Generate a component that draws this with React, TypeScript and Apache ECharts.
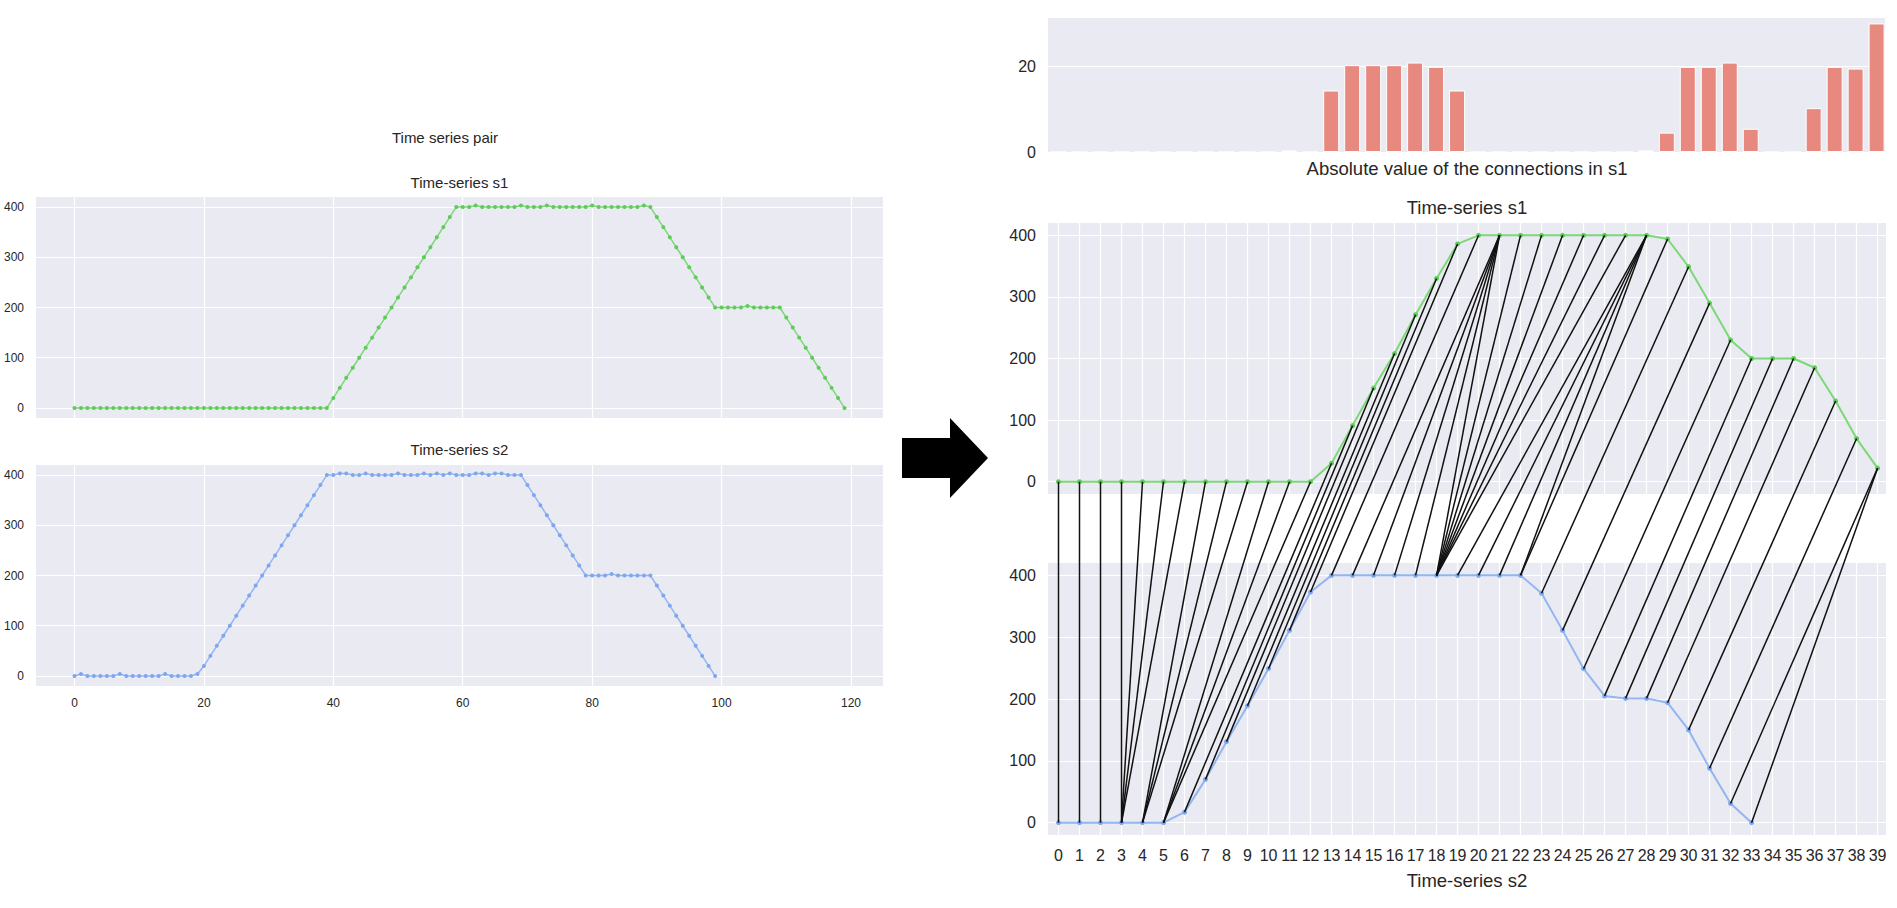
import React, { useEffect, useRef } from 'react';
import * as echarts from 'echarts';

// ---------- Left panel: original series ----------
const leftS1: number[] = [
  0, 0, 0, 0, 0, 0, 0, 0, 0, 0, 0, 0, 0, 0, 0, 0, 0, 0, 0, 0,
  0, 0, 0, 0, 0, 0, 0, 0, 0, 0, 0, 0, 0, 0, 0, 0, 0, 0, 0, 0,
  20, 40, 60, 80, 100, 120, 140, 160, 180, 200, 220, 240, 260, 280, 300, 320, 340, 360, 380, 400,
  400, 400, 403, 400, 400, 400, 400, 400, 400, 403, 400, 400, 400, 403, 400, 400, 400, 400, 400, 400,
  403, 400, 400, 400, 400, 400, 400, 400, 403, 400,
  380, 360, 340, 320, 300, 280, 260, 240, 220, 200,
  200, 200, 200, 200, 203, 200, 200, 200, 200, 200,
  180, 160, 140, 120, 100, 80, 60, 40, 20, 0,
];

const leftS2: number[] = [
  0, 4, 0, 0, 0, 0, 0, 4, 0, 0, 0, 0, 0, 0, 4, 0, 0, 0, 0, 4,
  20, 40, 60, 80, 100, 120, 140, 160, 180, 200, 220, 240, 260, 280, 300, 320, 340, 360, 380, 400,
  400, 403, 403, 400, 400, 403, 400, 400, 400, 400, 403, 400, 400, 400, 403, 400, 403, 400, 403, 400,
  400, 400, 403, 403, 400, 403, 403, 400, 400, 400,
  380, 360, 340, 320, 300, 280, 260, 240, 220, 200,
  200, 200, 200, 203, 200, 200, 200, 200, 200, 200,
  180, 160, 140, 120, 100, 80, 60, 40, 20, 0,
];

const leftXTicks = [0, 20, 40, 60, 80, 100, 120];

// ---------- Right panel: reduced series ----------
const rightS1: number[] = [
  0, 0, 0, 0, 0, 0, 0, 0, 0, 0, 0, 0, 0,
  30, 91, 152, 208, 271, 330, 386,
  400, 400, 400, 400, 400, 400, 400, 400, 400,
  394, 349, 290, 230, 200, 200, 200, 185, 131, 70, 22,
];

const rightS2: number[] = [
  0, 0, 0, 0, 0, 0,
  17, 70, 131, 189, 249, 311, 373,
  400, 400, 400, 400, 400, 400, 400, 400, 400, 400,
  371, 311, 249, 205, 201, 201, 194, 150, 88, 31, 0,
];

// Absolute value of the connections in s1 (one bar per s1 index)
const connectionBars: number[] = [
  0, 0, 0, 0, 0, 0, 0, 0, 0, 0, 0, 0.4, 0,
  14.3, 20.2, 20.2, 20.2, 20.8, 19.8, 14.3,
  0, 0, 0, 0, 0, 0, 0, 0, 0.4,
  4.5, 19.8, 19.8, 20.8, 5.4, 0, 0, 10.2, 19.8, 19.4, 29.9,
];

// Warping path: pairs (index in s1, index in s2)
const pathS1: number[] = [
  0, 1, 2, 3, 4, 5, 6, 7, 8, 9, 10, 11, 12, 13,
  14, 15, 16, 17, 18, 19, 20,
  21, 21, 21, 21, 21, 22, 23, 24, 25, 26, 27, 28, 28, 28, 28, 29,
  30, 31, 32, 33, 34, 35, 36, 37, 38, 39, 39,
];
const pathS2: number[] = [
  0, 1, 2, 3, 3, 3, 3, 4, 4, 4, 5, 5, 5, 6,
  7, 8, 9, 10, 11, 12, 13,
  14, 15, 16, 17, 18, 18, 18, 18, 18, 18, 18, 19, 20, 21, 22, 22,
  23, 24, 25, 26, 27, 28, 29, 30, 31, 32, 33,
];

const GREEN_LINE = '#7dd877';
const GREEN_MARK = '#5fcb58';
const BLUE_LINE = '#92b6f2';
const BLUE_MARK = '#7ea7ee';
const BAR_COLOR = '#e8897f';
const BG = '#eaeaf2';
const TXT = '#262626';
const FONT = '"Liberation Sans", Arial, Helvetica, sans-serif';

function text(x: number, y: number, s: string, size: number) {
  return {
    type: 'text',
    x,
    y,
    silent: true,
    style: {
      text: s,
      font: `${size}px ${FONT}`,
      fill: TXT,
      align: 'center',
      verticalAlign: 'middle',
      textAlign: 'center',
      textVerticalAlign: 'middle',
    },
  };
}

export default function App() {
  const ref = useRef<HTMLDivElement>(null);

  useEffect(() => {
    if (!ref.current) return;
    const chart = echarts.init(ref.current, null, { renderer: 'svg' });

    const split = { show: true, lineStyle: { color: '#ffffff', width: 1.2 }, showMinLine: false, showMaxLine: false };
    const leftLabel = { fontSize: 12, color: TXT, fontFamily: FONT, showMinLabel: false, showMaxLabel: false };
    const rightLabel = { fontSize: 16, color: TXT, fontFamily: FONT, showMinLabel: false, showMaxLabel: false };
    const noLine = { show: false };

    const leftX = (gridIndex: number, labels: boolean) => ({
      type: 'value', gridIndex, min: -5.95, max: 124.95, minInterval: 20, maxInterval: 20,
      axisLine: noLine, axisTick: noLine, splitLine: split,
      axisLabel: { ...leftLabel, show: labels, margin: 11, formatter: (v: number) => (leftXTicks.includes(v) ? String(v) : '') },
    });
    const leftY = (gridIndex: number) => ({
      type: 'value', gridIndex, min: -20, max: 420, minInterval: 100, maxInterval: 100,
      axisLine: noLine, axisTick: noLine, splitLine: split,
      axisLabel: { ...leftLabel, margin: 12 },
    });
    const rightX = (gridIndex: number, labels: boolean, grid: boolean) => ({
      type: 'value', gridIndex, min: -0.5, max: 39.4, minInterval: 1, maxInterval: 1,
      axisLine: noLine, axisTick: noLine, splitLine: grid ? split : { show: false },
      axisLabel: { ...rightLabel, show: labels, margin: 12 },
    });
    const rightY = (gridIndex: number) => ({
      type: 'value', gridIndex, min: -20, max: 420, minInterval: 100, maxInterval: 100,
      axisLine: noLine, axisTick: noLine, splitLine: split,
      axisLabel: { ...rightLabel, margin: 12 },
    });

    const gridBase = { show: true, backgroundColor: BG, borderWidth: 0, containLabel: false };

    const baseGraphics: any[] = [
      text(445, 137, 'Time series pair', 15),
      text(459.5, 182, 'Time-series s1', 15),
      text(459.5, 449, 'Time-series s2', 15),
      text(1467, 168, 'Absolute value of the connections in s1', 18.5),
      text(1467, 207, 'Time-series s1', 18.5),
      text(1467, 880, 'Time-series s2', 18.5),
      {
        type: 'polygon',
        silent: true,
        shape: { points: [[902, 438], [950, 438], [950, 418], [988, 458], [950, 498], [950, 478], [902, 478]] },
        style: { fill: '#000000' },
      },
    ];

    const option: any = {
      animation: false,
      backgroundColor: '#ffffff',
      grid: [
        { ...gridBase, left: 36, top: 197, width: 847, height: 221 },
        { ...gridBase, left: 36, top: 465, width: 847, height: 221 },
        { ...gridBase, left: 1048, top: 17, width: 837, height: 135 },
        { ...gridBase, left: 1048, top: 223, width: 838, height: 271 },
        { ...gridBase, left: 1048, top: 563, width: 838, height: 272 },
      ],
      xAxis: [
        leftX(0, false),
        leftX(1, true),
        { ...rightX(2, false, false) },
        rightX(3, false, true),
        rightX(4, true, true),
      ],
      yAxis: [
        leftY(0),
        leftY(1),
        {
          type: 'value', gridIndex: 2, min: 0, max: 31.4, interval: 20,
          axisLine: noLine, axisTick: noLine, splitLine: { show: true, lineStyle: { color: '#ffffff', width: 1.2 } },
          axisLabel: { ...rightLabel, showMinLabel: true, showMaxLabel: false, margin: 12 },
        },
        rightY(3),
        rightY(4),
      ],
      series: [
        {
          type: 'line', xAxisIndex: 0, yAxisIndex: 0,
          data: leftS1.map((v, i) => [i, v]),
          showSymbol: true, symbol: 'circle', symbolSize: 4,
          lineStyle: { color: GREEN_LINE, width: 1.5 }, itemStyle: { color: GREEN_MARK, borderWidth: 0 },
        },
        {
          type: 'line', xAxisIndex: 1, yAxisIndex: 1,
          data: leftS2.map((v, i) => [i, v]),
          showSymbol: true, symbol: 'circle', symbolSize: 4,
          lineStyle: { color: BLUE_LINE, width: 1.5 }, itemStyle: { color: BLUE_MARK, borderWidth: 0 },
        },
        {
          type: 'bar', xAxisIndex: 2, yAxisIndex: 2,
          data: connectionBars.map((v, i) => [i, v]),
          barWidth: 16,
          itemStyle: { color: BAR_COLOR, borderColor: '#ffffff', borderWidth: 1 },
        },
        {
          type: 'line', xAxisIndex: 3, yAxisIndex: 3,
          data: rightS1.map((v, i) => [i, v]),
          showSymbol: true, symbol: 'circle', symbolSize: 5,
          lineStyle: { color: GREEN_LINE, width: 2 }, itemStyle: { color: GREEN_MARK, borderWidth: 0 },
        },
        {
          type: 'line', xAxisIndex: 4, yAxisIndex: 4,
          data: rightS2.map((v, i) => [i, v]),
          showSymbol: true, symbol: 'circle', symbolSize: 5,
          lineStyle: { color: BLUE_LINE, width: 2 }, itemStyle: { color: BLUE_MARK, borderWidth: 0 },
        },
      ],
      graphic: { elements: baseGraphics },
    };

    chart.setOption(option);

    const lines = pathS1.map((i, k) => {
      const j = pathS2[k];
      const a = chart.convertToPixel({ gridIndex: 3 } as any, [i, rightS1[i]]) as number[];
      const b = chart.convertToPixel({ gridIndex: 4 } as any, [j, rightS2[j]]) as number[];
      return {
        type: 'line',
        silent: true,
        z: 100,
        shape: { x1: a[0], y1: a[1], x2: b[0], y2: b[1] },
        style: { stroke: '#111111', lineWidth: 1.5 },
      };
    });

    chart.setOption({ graphic: { elements: [...baseGraphics, ...lines] } });

    return () => chart.dispose();
  }, []);

  return (
    <div
      ref={ref}
      style={{ position: 'absolute', left: 0, top: 0, width: 1897, height: 908 }}
    />
  );
}
